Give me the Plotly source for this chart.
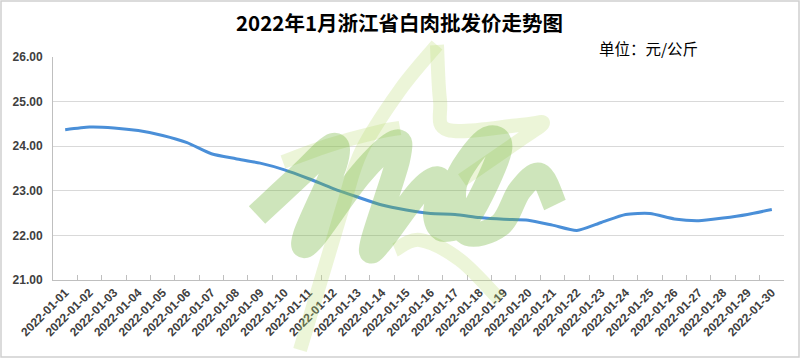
import plotly.graph_objects as go

dates = ["2022-01-%02d" % d for d in range(1, 31)]
prices = [24.37, 24.43, 24.41, 24.35, 24.24, 24.08, 23.83, 23.72, 23.62, 23.47,
          23.27, 23.05, 22.86, 22.68, 22.57, 22.49, 22.47, 22.40, 22.36, 22.34,
          22.23, 22.11, 22.29, 22.47, 22.49, 22.37, 22.33, 22.39, 22.47, 22.58]
y_ticks = [21, 22, 23, 24, 25, 26]
title_text = "2022年1月浙江省白肉批发价走势图"
unit_text = "单位：元/公斤"

W, H = 800, 358
L, R, T, B = 53, 784, 57, 280

def px(x):
    return (x - L) / (R - L)

def py(y):
    return (B - y) / (B - T)

def smooth_path(pts, t=0.5):
    # Catmull-Rom -> cubic Bezier, in paper coordinates
    P = [(px(x), py(y)) for x, y in pts]
    s = "M %.4f,%.4f " % P[0]
    n = len(P)
    for i in range(n - 1):
        p0 = P[i - 1] if i > 0 else P[i]
        p1 = P[i]
        p2 = P[i + 1]
        p3 = P[i + 2] if i + 2 < n else P[i + 1]
        c1 = (p1[0] + (p2[0] - p0[0]) * t / 3, p1[1] + (p2[1] - p0[1]) * t / 3)
        c2 = (p2[0] - (p3[0] - p1[0]) * t / 3, p2[1] - (p3[1] - p1[1]) * t / 3)
        s += "C %.4f,%.4f %.4f,%.4f %.4f,%.4f " % (c1 + c2 + p2)
    return s

fig = go.Figure()
fig.add_trace(go.Scatter(
    x=dates, y=prices, mode="lines",
    line=dict(color="#4a8fd8", width=3, shape="spline", smoothing=0.6),
    hoverinfo="x+y", showlegend=False))

shapes = []
# watermark star outline (pale)
star_a = [(300, 350), (330, 250), (345, 200), (362, 150), (400, 90), (437, 45)]
star_b = [(437, 45), (440, 100), (448, 130), (520, 125), (543, 123), (520, 140), (462, 180)]
star_c = [(283, 162), (330, 145), (378, 132), (400, 128)]
star_d = [(395, 250), (420, 240), (460, 260), (500, 300)]
for seg in (star_a, star_b, star_c, star_d):
    shapes.append(dict(type="path", xref="paper", yref="paper", path=smooth_path(seg),
                       line=dict(color="rgba(185,218,115,0.28)", width=14), layer="above"))
# watermark "Ma" scribble (darker)
ma = [(257, 215), (300, 175), (333, 145), (335, 165), (305, 235), (312, 240),
      (360, 175), (395, 142), (398, 160), (372, 243), (380, 243), (420, 190),
      (440, 180), (435, 215), (445, 230), (470, 215), (500, 150), (485, 140),
      (455, 185), (465, 232), (500, 225), (520, 190), (540, 175), (555, 205)]
shapes.append(dict(type="path", xref="paper", yref="paper", path=smooth_path(ma),
                   line=dict(color="rgba(115,180,60,0.35)", width=24), layer="above"))
# outer border
shapes.append(dict(type="rect", xref="paper", yref="paper",
                   x0=px(1), x1=px(799), y0=py(357), y1=py(1),
                   line=dict(color="#d0d0d0", width=1.5), layer="below"))
fig.update_layout(shapes=shapes)

fig.add_annotation(text=title_text, xref="paper", yref="paper",
                   x=px(399), y=py(22), xanchor="center", yanchor="middle",
                   showarrow=False,
                   font=dict(family="Noto Sans CJK SC", size=20.5, color="#000000", weight="bold"))
fig.add_annotation(text=unit_text, xref="paper", yref="paper",
                   x=px(597), y=py(48), xanchor="left", yanchor="middle",
                   showarrow=False,
                   font=dict(family="Noto Sans CJK SC", size=15.5, color="#000000"))

fig.update_layout(
    width=W, height=H,
    margin=dict(l=L, r=W - R, t=T, b=H - B, autoexpand=False),
    paper_bgcolor="white", plot_bgcolor="white",
    xaxis=dict(type="category", tickangle=-45, showgrid=False, automargin=False,
               showline=True, linecolor="#bfbfbf", linewidth=1,
               ticks="inside", tickson="boundaries", ticklen=5, tickcolor="#bfbfbf",
               tickfont=dict(family="Liberation Sans", size=12, color="#404040", weight="bold"),
               range=[-0.5, 29.5], fixedrange=True),
    yaxis=dict(range=[21, 26], tickvals=y_ticks, ticktext=["%.2f" % v for v in y_ticks],
               automargin=False,
               showgrid=True, gridcolor="#d9d9d9", gridwidth=1,
               showline=True, linecolor="#bfbfbf", linewidth=1, zeroline=False,
               ticks="", ticklabelstandoff=7,
               tickfont=dict(family="Liberation Sans", size=12, color="#404040", weight="bold")),
)

fig.write_html("out.html", config={"displayModeBar": False},
               post_script="document.body.style.margin='0';document.body.style.overflow='hidden';")
